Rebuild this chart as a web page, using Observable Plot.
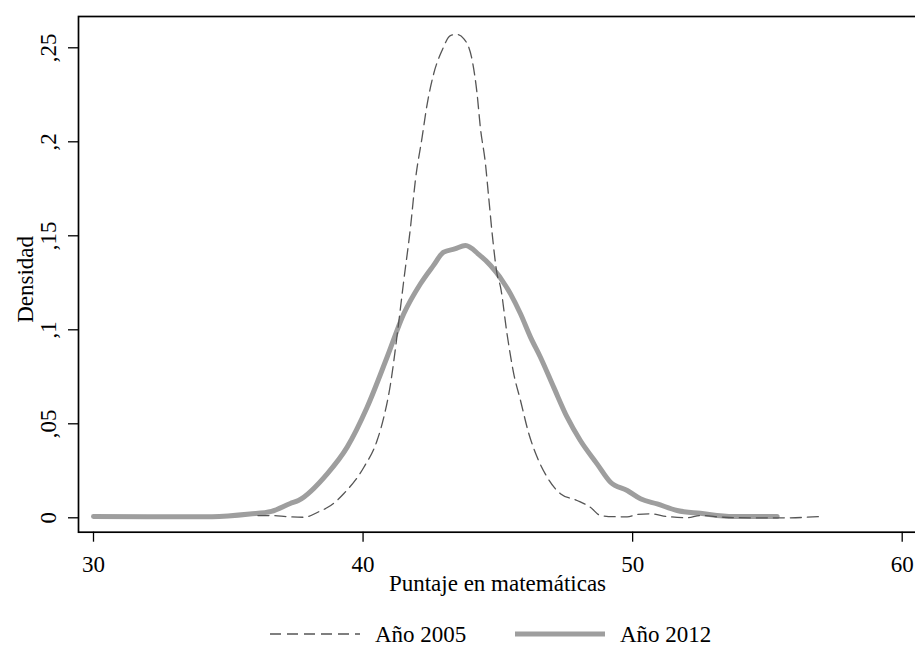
<!DOCTYPE html>
<html>
<head>
<meta charset="utf-8">
<script src="https://cdn.jsdelivr.net/npm/d3@7"></script>
<script src="https://cdn.jsdelivr.net/npm/@observablehq/plot@0.6"></script>
<style>
  html, body { margin: 0; padding: 0; background: #fff; overflow: hidden; width: 915px; height: 646px; }
  #chart { width: 915px; height: 600px; overflow: hidden; }
  #chart svg { display: block; max-width: none !important; height: 600px !important; }
  #legend { width: 915px; height: 46px; }
</style>
</head>
<body>
<div id="chart"></div>
<div id="legend"></div>
<script>
// ---- data ----
const xTicks = [30, 40, 50, 60];
const yTicks = [0, 0.05, 0.1, 0.15, 0.2, 0.25];
const yTickLabels = ["0", ",05", ",1", ",15", ",2", ",25"];
const xLabel = "Puntaje en matemáticas";
const yLabel = "Densidad";
const seriesNames = ["Año 2005", "Año 2012"];

const score2005 = [36.1, 36.6, 37.2, 37.8, 38.4, 38.8, 39.28, 40.03, 40.52, 40.77, 41.02, 41.27, 41.51, 41.76, 41.94, 42.19, 42.38, 42.62, 42.93, 43.24, 43.49, 43.74, 44.05, 44.23, 44.35, 44.54, 44.66, 44.79, 44.97, 45.10, 45.34, 45.59, 45.84, 46.15, 46.46, 46.83, 47.32, 47.94, 48.43, 48.81, 49.3, 49.8, 50.17, 50.66, 51.28, 52.02, 52.51, 53.37, 54.48, 55.73, 56.97];
const density2005 = [0.0012, 0.0012, 0.0006, 0.0003, 0.0035, 0.0065, 0.0128, 0.0269, 0.0411, 0.0535, 0.0713, 0.0979, 0.1262, 0.1546, 0.1794, 0.2024, 0.2202, 0.2362, 0.2486, 0.2565, 0.2571, 0.2548, 0.2432, 0.2255, 0.2078, 0.1883, 0.1705, 0.1511, 0.1298, 0.1227, 0.0979, 0.0766, 0.0624, 0.0447, 0.0322, 0.0216, 0.0128, 0.0092, 0.0056, 0.0012, 0.0006, 0.0005, 0.0018, 0.0021, 0.0007, 0.0, 0.0012, 0.0003, 0.0, 0.0, 0.0007];

const score2012 = [30.0, 32.0, 34.4, 35.8, 36.6, 37.3, 37.6, 38.67, 39.41, 40.15, 40.89, 41.51, 42.13, 42.6, 42.99, 43.4, 43.8, 44.3, 44.73, 45.47, 45.84, 46.21, 46.58, 47.07, 47.57, 48.06, 48.68, 49.18, 49.8, 50.29, 50.91, 51.65, 52.51, 53.74, 55.36];
const density2012 = [0.0007, 0.0005, 0.0006, 0.0020, 0.0034, 0.0076, 0.0092, 0.0234, 0.0376, 0.0588, 0.0854, 0.1085, 0.1245, 0.1340, 0.1413, 0.1430, 0.1448, 0.1400, 0.1342, 0.1191, 0.1085, 0.0961, 0.0854, 0.0695, 0.0535, 0.0411, 0.0287, 0.0189, 0.0145, 0.0101, 0.0074, 0.0039, 0.0024, 0.0007, 0.0007];

const data2005 = score2005.map((s, i) => ({score: s, density: density2005[i]}));
const data2012 = score2012.map((s, i) => ({score: s, density: density2012[i]}));

const color2005 = "#555555";
const color2012 = "#9e9e9e";
const font = "'Liberation Serif', 'Times New Roman', serif";
const fs = 23;

const chart = Plot.plot({
  width: 930,
  height: 600,
  marginLeft: 78,
  marginRight: 10,
  marginTop: 16,
  marginBottom: 68.3,
  x: {domain: [30, 60], range: [93, 901.7]},
  y: {domain: [0, 0.25], range: [517.3, 47.3]},
  style: {fontFamily: font, fontSize: fs + "px", background: "#fff", color: "#000", maxWidth: "none"},
  marks: [
    Plot.axisY({ticks: yTicks, tickSize: 10, tickFormat: () => "", label: null, strokeWidth: 1.3}),
    Plot.axisX({ticks: xTicks, tickSize: 10, tickFormat: () => "", label: null, strokeWidth: 1.3}),
    Plot.text(yTicks, {y: d => d, text: (d, i) => yTickLabels[i], frameAnchor: "left", dx: -23, rotate: -90, textAnchor: "middle", lineAnchor: "bottom", fontSize: fs}),
    Plot.text(xTicks, {x: d => d, text: d => String(d), frameAnchor: "bottom", dy: 40, textAnchor: "middle", lineAnchor: "bottom", fontSize: fs}),
    Plot.text([xLabel], {frameAnchor: "bottom", dx: -2, dy: 58.5, textAnchor: "middle", lineAnchor: "bottom", fontSize: fs, letterSpacing: "0.6px"}),
    Plot.text([yLabel], {frameAnchor: "left", dx: -46, dy: 5, rotate: -90, textAnchor: "middle", lineAnchor: "bottom", fontSize: fs}),
    Plot.line(data2012, {x: "score", y: "density", stroke: color2012, strokeWidth: 5, curve: "monotone-x", strokeLinejoin: "round"}),
    Plot.line(data2005, {x: "score", y: "density", stroke: color2005, strokeWidth: 1.3, strokeDasharray: "11,6", curve: "monotone-x"}),
    Plot.frame({stroke: "#000", strokeWidth: 1.7})
  ]
});
document.getElementById("chart").appendChild(chart);

// legend below the plot
const ns = "http://www.w3.org/2000/svg";
const lg = document.createElementNS(ns, "svg");
lg.setAttribute("width", 915);
lg.setAttribute("height", 46);
lg.style.display = "block";
const items = [
  {name: seriesNames[0], x1: 270, x2: 360, tx: 375, stroke: color2005, width: 1.3, dash: "11,6"},
  {name: seriesNames[1], x1: 515, x2: 605, tx: 620, stroke: color2012, width: 5, dash: null}
];
for (const it of items) {
  const l = document.createElementNS(ns, "line");
  l.setAttribute("x1", it.x1); l.setAttribute("x2", it.x2);
  l.setAttribute("y1", 34); l.setAttribute("y2", 34);
  l.setAttribute("stroke", it.stroke); l.setAttribute("stroke-width", it.width);
  if (it.dash) l.setAttribute("stroke-dasharray", it.dash);
  lg.appendChild(l);
  const t = document.createElementNS(ns, "text");
  t.setAttribute("x", it.tx); t.setAttribute("y", 42);
  t.setAttribute("font-family", font); t.setAttribute("font-size", fs);
  t.textContent = it.name;
  lg.appendChild(t);
}
document.getElementById("legend").appendChild(lg);
</script>
</body>
</html>
